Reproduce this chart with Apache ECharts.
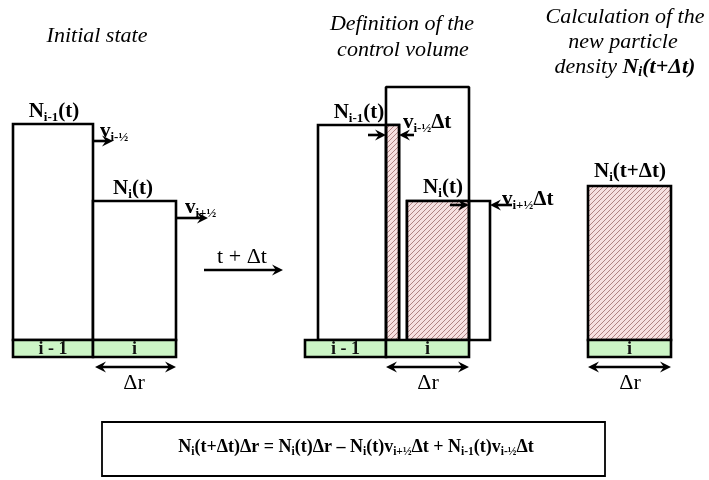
<!DOCTYPE html>
<html><head><meta charset="utf-8">
<script src="https://cdn.jsdelivr.net/npm/echarts@6/dist/echarts.min.js"></script>
<style>html,body{margin:0;padding:0;background:#fff}#c{width:709px;height:480px}</style>
</head><body><div id="c"></div>
<script>
// ---- Diagram data (diagram units; y grows downward) ----
const baseline = 340;          // bottom of density columns
const bandBottom = 357;        // bottom of cell bands
const arrowRowY = 367;         // Δr arrows
// density columns: [left, right, top]
const initialColumns = [[13, 93, 124], [93, 176, 201]];
const shiftedColumns = [[318, 399, 125], [407, 490, 201]];
// hatched (control-volume content) parts: [left, right, top]
const hatchedParts = [[386, 399, 125], [407, 469, 201], [588, 671, 186]];
// control volume outline points
const controlVolume = [[386, 340], [386, 87], [469, 87], [469, 340]];
// cell bands: [left, right]
const cellBands = [[13, 93], [93, 176], [305, 386], [386, 469], [588, 671]];
const cellLabels = ['i - 1', 'i', 'i - 1', 'i', 'i'];
// Δr extent arrows: [left, right]
const deltaRSpans = [[95, 176], [386, 469], [588, 671]];
// single flow arrows: [x0, y0, x1, y1]
const flowArrows = [[93, 141, 113, 141], [176, 218, 208, 218], [204, 270, 283, 270],
  [368, 135, 386, 135], [414, 135, 399, 135], [450, 205, 469, 205], [512, 205, 490, 205]];
// equation box: [left, right, top, bottom]
const equationBox = [[102, 605, 422, 476]];
// texts
const labelTexts = [
  '{t|Initial state}',
  '{t|Definition of the}',
  '{t|control volume}',
  '{t|Calculation of the}',
  '{t|new particle}',
  '{t|density }{tb|N}{tbs|i}{tb|(t+Δt)}',
  '{b|N}{bs|i-1}{b|(t)}',
  '{b|v}{bs|i-½}',
  '{b|N}{bs|i}{b|(t)}',
  '{b|v}{bs|i+½}',
  '{n|t + Δt}',
  '{b|N}{bs|i-1}{b|(t)}',
  '{b|v}{bs|i-½}{b|Δt}',
  '{b|N}{bs|i}{b|(t)}',
  '{b|v}{bs|i+½}{b|Δt}',
  '{b|N}{bs|i}{b|(t+Δt)}',
  '{n|Δr}', '{n|Δr}', '{n|Δr}',
  '{e|N}{es|i}{e|(t+Δt)Δr = N}{es|i}{e|(t)Δr – N}{es|i}{e|(t)v}{es|i+½}{e|Δt + N}{es|i-1}{e|(t)v}{es|i-½}{e|Δt}'
];
const labelAnchors = [[97, 36], [402, 24], [403, 50], [625, 17], [623, 42], [625, 67],
  [54, 112], [100, 132], [133, 189], [185, 208], [242, 257],
  [359, 113], [403, 123], [443, 188], [502, 200], [630, 172],
  [134, 383], [428, 383], [630, 383], [356, 447]];
const labelAligns = ['center', 'center', 'center', 'center', 'center', 'center',
  'center', 'left', 'center', 'left', 'center',
  'center', 'left', 'center', 'left', 'center',
  'center', 'center', 'center', 'center'];

// ---- Rendering ----
const SERIF = '"Liberation Serif", "DejaVu Serif", serif';
function makeHatch() {
  const s = 5, cv = document.createElement('canvas');
  cv.width = s; cv.height = s;
  const g = cv.getContext('2d');
  g.fillStyle = '#f6e0e0'; g.fillRect(0, 0, s, s);
  g.strokeStyle = '#a87878'; g.lineWidth = 0.9;
  g.beginPath();
  g.moveTo(0, s); g.lineTo(s, 0);
  g.moveTo(-1, 1); g.lineTo(1, -1);
  g.moveTo(s - 1, s + 1); g.lineTo(s + 1, s - 1);
  g.stroke();
  return { image: cv, repeat: 'repeat' };
}
const hatch = makeHatch();
const rich = {
  t: { fontFamily: SERIF, fontStyle: 'italic', fontSize: 22, lineHeight: 24, color: '#111' },
  tb: { fontFamily: SERIF, fontStyle: 'italic', fontWeight: 'bold', fontSize: 22, lineHeight: 24, color: '#111' },
  tbs: { fontFamily: SERIF, fontStyle: 'italic', fontWeight: 'bold', fontSize: 14, lineHeight: 15, verticalAlign: 'bottom', color: '#111' },
  b: { fontFamily: SERIF, fontWeight: 'bold', fontSize: 21, lineHeight: 24, color: '#111' },
  bs: { fontFamily: SERIF, fontWeight: 'bold', fontSize: 13, lineHeight: 15, verticalAlign: 'bottom', color: '#111' },
  n: { fontFamily: SERIF, fontSize: 22, lineHeight: 24, color: '#111' },
  e: { fontFamily: SERIF, fontWeight: 'bold', fontSize: 18, lineHeight: 22, color: '#111' },
  es: { fontFamily: SERIF, fontWeight: 'bold', fontSize: 11.5, lineHeight: 14, verticalAlign: 'bottom', color: '#111' }
};
function rectFrom(api, l, r, t, b) {
  const p0 = api.coord([l, t]), p1 = api.coord([r, b]);
  return { x: p0[0], y: p0[1], width: p1[0] - p0[0], height: p1[1] - p0[1] };
}
function arrowHead(tip, from, len, half) {
  const dx = tip[0] - from[0], dy = tip[1] - from[1];
  const L = Math.hypot(dx, dy) || 1, ux = dx / L, uy = dy / L, nx = -uy, ny = ux;
  const back = [tip[0] - ux * len, tip[1] - uy * len];
  const notch = [tip[0] - ux * len * 0.65, tip[1] - uy * len * 0.65];
  return { type: 'polygon', shape: { points: [tip, [back[0] + nx * half, back[1] + ny * half], notch, [back[0] - nx * half, back[1] - ny * half]] },
    style: { fill: '#000' } };
}
function arrowGroup(api, a, b, both) {
  const p0 = api.coord(a), p1 = api.coord(b);
  const dx = p1[0] - p0[0], dy = p1[1] - p0[1], L = Math.hypot(dx, dy), ux = dx / L, uy = dy / L;
  const s = both ? [p0[0] + ux * 6, p0[1] + uy * 6] : p0;
  const e = [p1[0] - ux * 6, p1[1] - uy * 6];
  const children = [{ type: 'line', shape: { x1: s[0], y1: s[1], x2: e[0], y2: e[1] }, style: { stroke: '#000', lineWidth: 2.6 } },
    arrowHead(p1, p0, 11, 5.5)];
  if (both) children.push(arrowHead(p0, p1, 11, 5.5));
  return { type: 'group', children };
}

const chart = echarts.init(document.getElementById('c'));
chart.setOption({
  animation: false,
  backgroundColor: '#fff',
  grid: { left: 0, right: 0, top: 0, bottom: 0 },
  xAxis: { type: 'value', min: 0, max: 709, show: false },
  yAxis: { type: 'value', min: 0, max: 480, inverse: true, show: false },
  series: [
    { type: 'custom', name: 'columns', data: initialColumns.concat(shiftedColumns), z: 2,
      renderItem: (p, api) => ({ type: 'rect', shape: rectFrom(api, api.value(0), api.value(1), api.value(2), baseline),
        style: { fill: '#fff', stroke: '#000', lineWidth: 2.6 } }) },
    { type: 'custom', name: 'hatched', data: hatchedParts, z: 3,
      renderItem: (p, api) => ({ type: 'rect', shape: rectFrom(api, api.value(0), api.value(1), api.value(2), baseline),
        style: { fill: hatch, stroke: '#000', lineWidth: 2.6 } }) },
    { type: 'line', name: 'control volume', data: controlVolume, z: 4, symbol: 'none', silent: true,
      lineStyle: { color: '#000', width: 2.6 } },
    { type: 'custom', name: 'cells', data: cellBands, z: 5,
      renderItem: (p, api) => {
        const r = rectFrom(api, api.value(0), api.value(1), baseline, bandBottom);
        return { type: 'group', children: [
          { type: 'rect', shape: r, style: { fill: '#ccf5c6', stroke: '#000', lineWidth: 2.6 } },
          { type: 'text', style: { text: cellLabels[p.dataIndex], x: r.x + r.width / 2, y: r.y + r.height / 2 + 1,
            align: 'center', verticalAlign: 'middle', fontFamily: SERIF, fontWeight: 'bold', fontSize: 18, fill: '#111' } }
        ] };
      } },
    { type: 'custom', name: 'delta r', data: deltaRSpans, z: 6,
      renderItem: (p, api) => arrowGroup(api, [api.value(0), arrowRowY], [api.value(1), arrowRowY], true) },
    { type: 'custom', name: 'flows', data: flowArrows, z: 6,
      renderItem: (p, api) => arrowGroup(api, [api.value(0), api.value(1)], [api.value(2), api.value(3)], false) },
    { type: 'custom', name: 'equation box', data: equationBox, z: 6,
      renderItem: (p, api) => ({ type: 'rect', shape: rectFrom(api, api.value(0), api.value(1), api.value(2), api.value(3)),
        style: { fill: 'none', stroke: '#000', lineWidth: 1.8 } }) },
    { type: 'custom', name: 'labels', data: labelAnchors, z: 7,
      renderItem: (p, api) => {
        const c = api.coord([api.value(0), api.value(1)]);
        return { type: 'text', style: { text: labelTexts[p.dataIndex], rich, x: c[0], y: c[1],
          align: labelAligns[p.dataIndex], verticalAlign: 'middle' } };
      } }
  ]
});
</script></body></html>
